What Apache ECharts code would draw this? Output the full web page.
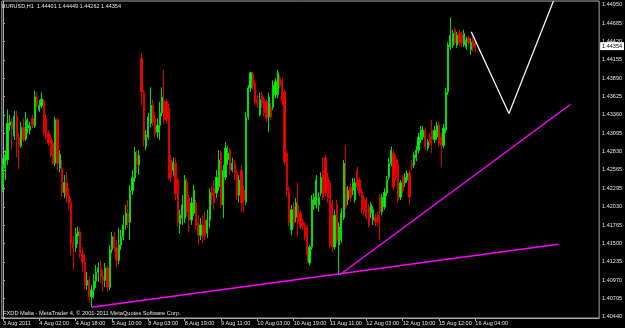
<!DOCTYPE html>
<html><head><meta charset="utf-8">
<script src="https://cdn.jsdelivr.net/npm/echarts@6/dist/echarts.min.js"></script>
<style>html,body{margin:0;padding:0;background:#000;}#c{width:625px;height:328px;}</style>
</head><body><div id="c"></div>
<script>
const symbolTitle = 'EURUSD,H1  1.44401 1.44449 1.44262 1.44354';
const footerText = 'FXDD Malta - MetaTrader 4, \u00a9 2001-2011 MetaQuotes Software Corp.';
const timeLabels = ['3 Aug 2011','4 Aug 02:00','4 Aug 18:00','5 Aug 10:00','8 Aug 03:00','8 Aug 19:00','9 Aug 11:00','10 Aug 03:00','10 Aug 19:00','11 Aug 11:00','12 Aug 03:00','12 Aug 19:00','15 Aug 12:00','16 Aug 04:00'];
const labelStep = 16;
const priceTicks = [1.40440,1.40705,1.40970,1.41235,1.41500,1.41765,1.42030,1.42295,1.42565,1.42830,1.43095,1.43360,1.43625,1.43890,1.44155,1.44420,1.44685,1.44950];
const lastPrice = 1.44354;
const shiftBars = 54;

const open = [
1.4235,1.4259,1.4271,1.4321,1.4326,1.4305,1.4334,1.4304,1.4291,1.4318,
1.4301,1.4317,1.4314,1.4331,1.4320,1.4362,1.4343,1.4349,1.4356,1.4331,
1.4310,1.4303,1.4295,1.4266,1.4329,1.4259,1.4259,1.4224,1.4238,1.4219,
1.4209,1.4151,1.4144,1.4161,1.4167,1.4136,1.4123,1.4090,1.4097,1.4073,
1.4083,1.4096,1.4109,1.4115,1.4102,1.4097,1.4115,1.4087,1.4141,1.4160,
1.4144,1.4126,1.4148,1.4160,1.4177,1.4194,1.4181,1.4227,1.4245,1.4278,
1.4264,1.4418,1.4369,1.4290,1.4304,1.4324,1.4350,1.4331,1.4311,1.4321,
1.4339,1.4358,1.4355,1.4346,1.4271,1.4256,1.4266,1.4242,1.4178,1.4187,
1.4187,1.4239,1.4216,1.4184,1.4194,1.4209,1.4180,1.4162,1.4177,1.4184,
1.4165,1.4184,1.4224,1.4230,1.4223,1.4232,1.4282,1.4206,1.4246,1.4271,
1.4285,1.4256,1.4266,1.4253,1.4220,1.4256,1.4227,1.4210,1.4333,1.4375,
1.4394,1.4382,1.4358,1.4336,1.4365,1.4358,1.4355,1.4333,1.4347,1.4347,
1.4365,1.4365,1.4389,1.4386,1.4369,1.4281,1.4227,1.4170,1.4203,1.4188,
1.4206,1.4194,1.4181,1.4177,1.4173,1.4122,1.4145,1.4206,1.4206,1.4206,
1.4223,1.4256,1.4274,1.4246,1.4238,1.4209,1.4145,1.4206,1.4148,1.4155,
1.4188,1.4232,1.4213,1.4232,1.4227,1.4213,1.4256,1.4242,1.4224,1.4216,
1.4213,1.4203,1.4194,1.4184,1.4188,1.4191,1.4217,1.4196,1.4203,1.4223,
1.4246,1.4266,1.4281,1.4274,1.4266,1.4217,1.4246,1.4238,1.4242,1.4252,
1.4266,1.4264,1.4274,1.4285,1.4300,1.4304,1.4314,1.4288,1.4304,1.4314,
1.4300,1.4304,1.4321,1.4304,1.4292,1.4314,1.4369,1.4434,1.4437,1.4459,
1.4437,1.4454,1.4451,1.4437,1.4434,1.4447,1.4430,1.4444,1.44401];
const high = [
1.4274,1.4285,1.4344,1.4336,1.4331,1.4342,1.4342,1.4310,1.4326,1.4331,
1.4340,1.4331,1.4326,1.4336,1.4371,1.4369,1.4358,1.4368,1.4359,1.4336,
1.4314,1.4307,1.4300,1.4333,1.4331,1.4285,1.4271,1.4249,1.4253,1.4230,
1.4216,1.4161,1.4173,1.4175,1.4173,1.4145,1.4134,1.4109,1.4103,1.4090,
1.4106,1.4119,1.4123,1.4126,1.4112,1.4122,1.4119,1.4148,1.4167,1.4167,
1.4155,1.4173,1.4170,1.4191,1.4206,1.4213,1.4235,1.4256,1.4290,1.4285,
1.4285,1.4425,1.4372,1.4314,1.4339,1.4376,1.4358,1.4340,1.4331,1.4355,
1.4376,1.4401,1.4360,1.4352,1.4278,1.4274,1.4274,1.4245,1.4199,1.4220,
1.4249,1.4245,1.4220,1.4217,1.4235,1.4213,1.4191,1.4187,1.4191,1.4196,
1.4199,1.4230,1.4233,1.4242,1.4256,1.4285,1.4285,1.4264,1.4297,1.4291,
1.4288,1.4274,1.4271,1.4256,1.4249,1.4264,1.4235,1.4340,1.4379,1.4398,
1.4398,1.4386,1.4365,1.4368,1.4369,1.4362,1.4358,1.4368,1.4353,1.4386,
1.4389,1.4401,1.4394,1.4389,1.4372,1.4285,1.4233,1.4206,1.4209,1.4216,
1.4238,1.4199,1.4187,1.4181,1.4177,1.4148,1.4220,1.4223,1.4249,1.4224,
1.4253,1.4275,1.4278,1.4252,1.4242,1.4213,1.4199,1.4213,1.4181,1.4201,
1.4271,1.4292,1.4233,1.4238,1.4245,1.4245,1.4261,1.4246,1.4230,1.4220,
1.4217,1.4207,1.4210,1.4204,1.4193,1.4196,1.4222,1.4222,1.4230,1.4248,
1.4274,1.4290,1.4285,1.4278,1.4271,1.4242,1.4250,1.4252,1.4256,1.4256,
1.4271,1.4282,1.4291,1.4310,1.4320,1.4320,1.4318,1.4301,1.4310,1.4329,
1.4320,1.4326,1.4326,1.4310,1.4323,1.4375,1.4441,1.4477,1.4459,1.4462,
1.4456,1.4459,1.4456,1.4459,1.4449,1.4451,1.4447,1.4449,1.44449];
const low = [
1.4224,1.4242,1.4264,1.4313,1.4285,1.4300,1.4275,1.4258,1.4288,1.4297,
1.4298,1.4310,1.4308,1.4317,1.4317,1.4346,1.4340,1.4346,1.4307,1.4300,
1.4291,1.4275,1.4264,1.4262,1.4256,1.4253,1.4217,1.4216,1.4209,1.4199,
1.4134,1.4112,1.4138,1.4149,1.4129,1.4109,1.4084,1.4083,1.4064,1.4058,
1.4071,1.4086,1.4095,1.4093,1.4081,1.4087,1.4080,1.4083,1.4136,1.4138,
1.4115,1.4120,1.4141,1.4155,1.4170,1.4173,1.4155,1.4220,1.4239,1.4252,
1.4249,1.4350,1.4290,1.4285,1.4300,1.4318,1.4320,1.4303,1.4303,1.4300,
1.4334,1.4323,1.4323,1.4242,1.4239,1.4248,1.4213,1.4175,1.4165,1.4177,
1.4180,1.4190,1.4167,1.4177,1.4190,1.4170,1.4148,1.4155,1.4151,1.4155,
1.4158,1.4173,1.4206,1.4199,1.4216,1.4227,1.4201,1.4187,1.4242,1.4264,
1.4249,1.4253,1.4242,1.4213,1.4209,1.4196,1.4194,1.4206,1.4329,1.4369,
1.4372,1.4350,1.4346,1.4334,1.4346,1.4334,1.4326,1.4311,1.4329,1.4343,
1.4360,1.4360,1.4375,1.4350,1.4264,1.4217,1.4175,1.4162,1.4173,1.4181,
1.4160,1.4170,1.4170,1.4155,1.4123,1.4119,1.4141,1.4199,1.4201,1.4196,
1.4219,1.4213,1.4219,1.4209,1.4144,1.4138,1.4141,1.4151,1.4105,1.4151,
1.4184,1.4199,1.4206,1.4210,1.4220,1.4209,1.4227,1.4219,1.4194,1.4191,
1.4184,1.4173,1.4187,1.4177,1.4175,1.4175,1.4155,1.4191,1.4199,1.4219,
1.4242,1.4262,1.4227,1.4242,1.4209,1.4213,1.4223,1.4232,1.4238,1.4206,
1.4256,1.4259,1.4269,1.4281,1.4295,1.4300,1.4285,1.4284,1.4291,1.4281,
1.4295,1.4300,1.4291,1.4261,1.4288,1.4310,1.4365,1.4430,1.4433,1.4437,
1.4433,1.4436,1.4434,1.4434,1.4430,1.4436,1.4423,1.4427,1.44262];
const close = [
1.4264,1.4278,1.4324,1.4326,1.4316,1.4334,1.4304,1.4292,1.4318,1.4300,
1.4329,1.4321,1.4320,1.4321,1.4362,1.4350,1.4350,1.4359,1.4310,1.4303,
1.4295,1.4278,1.4266,1.4329,1.4266,1.4279,1.4224,1.4238,1.4219,1.4209,
1.4151,1.4144,1.4164,1.4167,1.4136,1.4123,1.4090,1.4097,1.4073,1.4083,
1.4096,1.4109,1.4115,1.4102,1.4097,1.4115,1.4087,1.4141,1.4160,1.4144,
1.4126,1.4148,1.4160,1.4177,1.4194,1.4181,1.4227,1.4245,1.4282,1.4264,
1.4277,1.4369,1.4300,1.4307,1.4333,1.4350,1.4326,1.4308,1.4321,1.4339,
1.4362,1.4329,1.4329,1.4245,1.4245,1.4268,1.4222,1.4181,1.4191,1.4206,
1.4242,1.4196,1.4184,1.4209,1.4227,1.4177,1.4162,1.4177,1.4160,1.4162,
1.4184,1.4224,1.4219,1.4209,1.4246,1.4271,1.4206,1.4256,1.4288,1.4281,
1.4256,1.4266,1.4252,1.4220,1.4242,1.4209,1.4213,1.4333,1.4375,1.4397,
1.4379,1.4355,1.4353,1.4358,1.4353,1.4339,1.4331,1.4362,1.4333,1.4379,
1.4384,1.4397,1.4379,1.4355,1.4268,1.4227,1.4180,1.4199,1.4180,1.4209,
1.4181,1.4174,1.4177,1.4160,1.4134,1.4145,1.4213,1.4217,1.4242,1.4217,
1.4246,1.4217,1.4223,1.4216,1.4148,1.4145,1.4191,1.4155,1.4174,1.4194,
1.4266,1.4203,1.4227,1.4216,1.4238,1.4238,1.4232,1.4223,1.4199,1.4196,
1.4188,1.4177,1.4206,1.4199,1.4181,1.4181,1.4196,1.4217,1.4224,1.4242,
1.4266,1.4285,1.4232,1.4246,1.4213,1.4238,1.4227,1.4246,1.4252,1.4217,
1.4261,1.4278,1.4285,1.4304,1.4314,1.4314,1.4290,1.4297,1.4295,1.4300,
1.4314,1.4321,1.4295,1.4292,1.4317,1.4369,1.4437,1.4451,1.4454,1.4440,
1.4451,1.4440,1.4440,1.4454,1.4444,1.4440,1.4441,1.4434,1.44354];

// trend objects drawn on the chart: [bar index, price]
const trendLower = [[39, 1.4058], [244.6, 1.4149]];
const trendUpper = [[148.3, 1.4105], [249.8, 1.4351]];
const zigzag = [[206.2, 1.4456], [222.8, 1.4338], [242.4, 1.45006]];
const yMin = 1.40425, yMax = 1.45006;

const FONT = 'Liberation Sans';
const TXT = '#e4e4e4';
const AX = '#a8a8a8';
const nBars = open.length;
const cats = Array.from({length: nBars + shiftBars}, (_, i) => String(i));
const candles = open.map((o, i) => [o, close[i], low[i], high[i]]);
const showIdx = (i) => i % labelStep === 0 && i < nBars;

const chart = echarts.init(document.getElementById('c'), null, {renderer: 'canvas'});
chart.setOption({
  backgroundColor: '#000000',
  animation: false,
  title: [
    {text: symbolTitle, left: 2, top: 3, padding: 0, textStyle: {color: TXT, fontSize: 5.5, fontWeight: 'normal', fontFamily: FONT}},
    {text: footerText, left: 3, top: 310, padding: 0, textStyle: {color: TXT, fontSize: 5.7, fontWeight: 'normal', fontFamily: FONT}}
  ],
  grid: {left: 1, top: 1, width: 603, height: 317, show: true, borderColor: AX, borderWidth: 1, backgroundColor: 'transparent', containLabel: false},
  xAxis: [
    {type: 'category', data: cats, boundaryGap: true,
     axisLine: {show: true, lineStyle: {color: AX, width: 1}},
     axisTick: {show: true, alignWithLabel: true, interval: showIdx, length: 3, lineStyle: {color: AX}},
     axisLabel: {interval: showIdx, formatter: (v, i) => timeLabels[Math.round(Number(v) / labelStep)], align: 'left', margin: 2,
                 color: TXT, fontSize: 5.5, fontFamily: FONT},
     splitLine: {show: false}},
    {type: 'value', min: -0.5, max: nBars + shiftBars - 0.5, show: false}
  ],
  yAxis: {type: 'value', position: 'right', min: yMin, max: yMax,
    axisLine: {show: true, lineStyle: {color: AX, width: 1}},
    axisTick: {show: true, length: 2, customValues: priceTicks, lineStyle: {color: AX}},
    axisLabel: {customValues: priceTicks, formatter: (v) => v.toFixed(5), margin: 3, color: TXT, fontSize: 5.5, fontFamily: FONT},
    splitLine: {show: false}},
  series: [
    {type: 'candlestick', data: candles, barWidth: 1.7,
     itemStyle: {color: '#00ff00', color0: '#ff0000', borderColor: '#00dd00', borderColor0: '#dd0000', borderWidth: 1}},
    {type: 'line', xAxisIndex: 1, data: trendLower, symbol: 'none', silent: true, lineStyle: {color: '#ff00ff', width: 1.5}, z: 3},
    {type: 'line', xAxisIndex: 1, data: trendUpper, symbol: 'none', silent: true, lineStyle: {color: '#ff00ff', width: 1.5}, z: 3},
    {type: 'line', xAxisIndex: 1, data: zigzag, symbol: 'none', silent: true, lineStyle: {color: '#f0f0f0', width: 1.3}, z: 3,
     markLine: {silent: true, symbol: 'none', precision: 5, data: [{yAxis: lastPrice}],
       lineStyle: {color: 'rgba(0,0,0,0)', width: 0},
       label: {show: true, position: 'end', distance: 1, formatter: () => lastPrice.toFixed(5),
               backgroundColor: '#ffffff', color: '#000000', padding: [1, 2], fontSize: 5.5, fontFamily: FONT}}}
  ]
});
</script>
</body></html>
